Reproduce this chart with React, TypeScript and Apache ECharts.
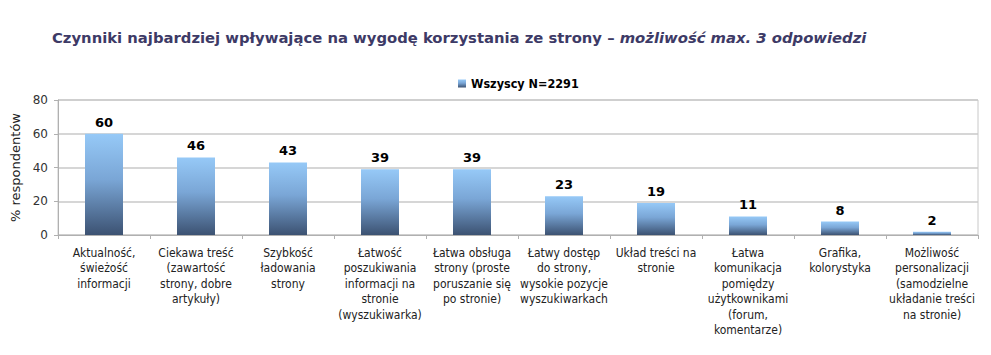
import React, { useEffect, useRef } from "react";
import * as echarts from "echarts";

const categories = [
  "Aktualność,\nświeżość\ninformacji",
  "Ciekawa treść\n(zawartość\nstrony, dobre\nartykuły)",
  "Szybkość\nładowania\nstrony",
  "Łatwość\nposzukiwania\ninformacji na\nstronie\n(wyszukiwarka)",
  "Łatwa obsługa\nstrony (proste\nporuszanie się\npo stronie)",
  "Łatwy dostęp\ndo strony,\nwysokie pozycje\nwyszukiwarkach",
  "Układ treści na\nstronie",
  "Łatwa\nkomunikacja\npomiędzy\nużytkownikami\n(forum,\nkomentarze)",
  "Grafika,\nkolorystyka",
  "Możliwość\npersonalizacji\n(samodzielne\nukładanie treści\nna stronie)",
];
const values = [60, 46, 43, 39, 39, 23, 19, 11, 8, 2];
const seriesName = "Wszyscy N=2291";
const yTicks = [0, 20, 40, 60, 80];

export default function App() {
  const ref = useRef<HTMLDivElement>(null);
  useEffect(() => {
    if (!ref.current) return;
    const chart = echarts.init(ref.current, undefined, { renderer: "svg" });
    const grad = new echarts.graphic.LinearGradient(0, 0, 0, 1, [
      { offset: 0, color: "#96c9f7" },
      { offset: 0.45, color: "#7aa6d6" },
      { offset: 1, color: "#3c5272" },
    ]);
    chart.setOption({
      animation: false,
      backgroundColor: "#ffffff",
      title: {
        left: 47,
        top: 25,
        text: "{b|Czynniki najbardziej wpływające na wygodę korzystania ze strony – }{i|możliwość max. 3 odpowiedzi}",
        textStyle: {
          rich: {
            b: { fontFamily: "DejaVu Sans", fontSize: 14.8, fontWeight: "bold", color: "#3d3a66" },
            i: { fontFamily: "DejaVu Sans", fontSize: 14.8, fontWeight: "bold", fontStyle: "italic", color: "#3d3a66" },
          },
        },
      },
      legend: {
        top: 72,
        left: 453,
        itemWidth: 8,
        itemHeight: 8,
        itemGap: 6,
        icon: "rect",
        textStyle: { fontFamily: "DejaVu Sans Condensed", fontSize: 12.5, fontWeight: "bold", color: "#000" },
        data: [seriesName],
      },
      grid: { left: 58, right: 13, top: 100, bottom: 120, show: true, borderColor: "#c8c8c8", borderWidth: 1 },
      xAxis: {
        type: "category",
        data: categories,
        axisLine: { lineStyle: { color: "#b0b0b0" } },
        axisTick: { show: true, length: 4, lineStyle: { color: "#b0b0b0" } },
        axisLabel: {
          interval: 0,
          fontFamily: "DejaVu Sans Condensed",
          fontSize: 12,
          color: "#222",
          lineHeight: 15.5,
          margin: 10,
        },
      },
      yAxis: {
        type: "value",
        min: 0,
        max: 80,
        interval: 20,
        name: "% respondentów",
        nameLocation: "middle",
        nameGap: 34,
        nameRotate: 90,
        nameTextStyle: { fontFamily: "DejaVu Sans", fontSize: 13, color: "#222" },
        axisLine: { show: true, lineStyle: { color: "#b0b0b0" } },
        axisTick: { show: true, length: 4, lineStyle: { color: "#b0b0b0" } },
        axisLabel: {
          fontFamily: "DejaVu Sans",
          fontSize: 12,
          color: "#333",
          margin: 10,
          formatter: (v: number) => (yTicks.includes(v) ? String(v) : ""),
        },
        splitLine: { lineStyle: { color: "#c8c8c8", width: 1.5 } },
      },
      series: [
        {
          name: seriesName,
          type: "bar",
          data: values,
          barWidth: 38,
          itemStyle: { color: grad },
          label: {
            show: true,
            position: "top",
            distance: 5,
            fontFamily: "DejaVu Sans",
            fontWeight: "bold",
            fontSize: 13,
            color: "#000",
          },
        },
      ],
    });
    return () => chart.dispose();
  }, []);
  return <div ref={ref} style={{ width: 991, height: 355, position: "absolute", left: 0, top: 0 }} />;
}
